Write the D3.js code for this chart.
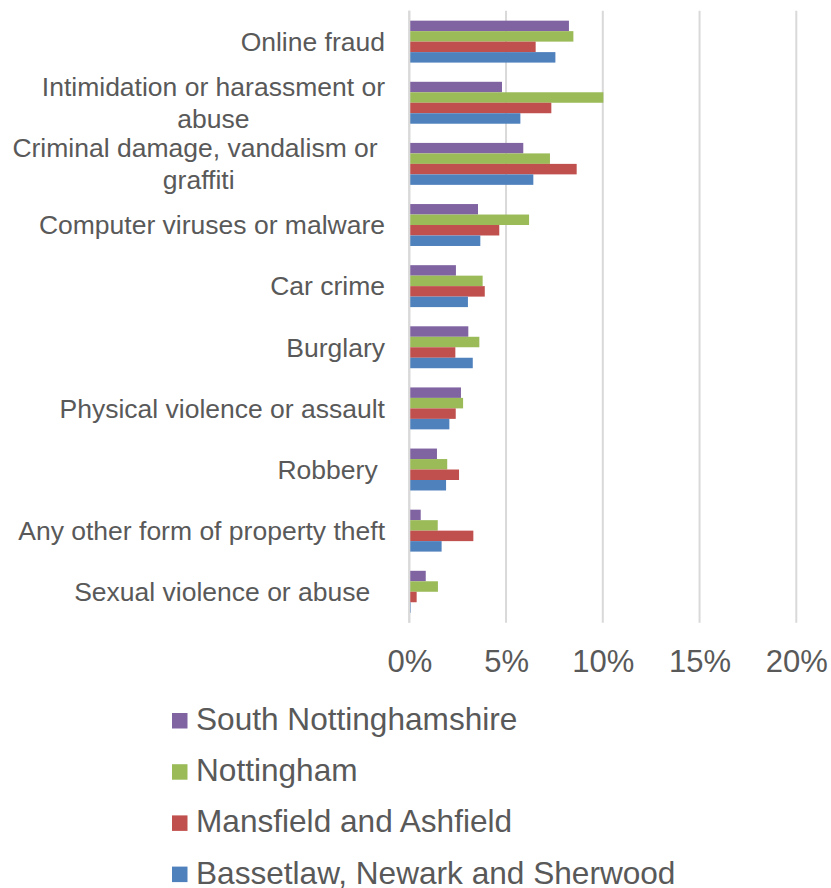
<!DOCTYPE html>
<html>
<head>
<meta charset="utf-8">
<script src="https://cdn.jsdelivr.net/npm/d3@7"></script>
<style>
  html, body { margin: 0; padding: 0; background: #ffffff; }
  svg { display: block; font-family: "Liberation Sans", Arial, sans-serif; }
</style>
</head>
<body>
<svg id="chart" width="831" height="888"></svg>
<script>
// Categories (top to bottom); "\n" marks a wrapped label line
const categories = [
  "Online fraud",
  "Intimidation or harassment or\nabuse",
  "Criminal damage, vandalism or \ngraffiti",
  "Computer viruses or malware",
  "Car crime",
  "Burglary",
  "Physical violence or assault",
  "Robbery ",
  "Any other form of property theft",
  "Sexual violence or abuse  "
];

const seriesNames = [
  "South Nottinghamshire",
  "Nottingham",
  "Mansfield and Ashfield",
  "Bassetlaw, Newark and Sherwood"
];

const seriesColors = ["#8064A2", "#9BBB59", "#C0504D", "#4F81BD"];

// Values in percent, same order as categories
const southNotts   = [8.25, 4.79, 5.89, 3.55, 2.41, 3.05, 2.67, 1.43, 0.59, 0.85];
const nottingham   = [8.48, 10.03, 7.27, 6.19, 3.79, 3.62, 2.78, 1.96, 1.47, 1.48];
const mansfield    = [6.53, 7.34, 8.65, 4.65, 3.90, 2.38, 2.40, 2.57, 3.31, 0.38];
const bassetlaw    = [7.55, 5.74, 6.41, 3.67, 3.03, 3.28, 2.07, 1.90, 1.67, 0.07];

const seriesValues = [southNotts, nottingham, mansfield, bassetlaw];

const xTicks = [0, 5, 10, 15, 20];

const svg = d3.select("#chart");
const textColor = "#595959";
const gridColor = "#d9d9d9";

const plot = { left: 409.3, right: 796.3, top: 10.7, bottom: 622.7 };

const x = d3.scaleLinear().domain([0, 20]).range([plot.left, plot.right]);
const y = d3.scaleBand().domain(d3.range(categories.length))
  .range([plot.top, plot.bottom]).paddingInner(0.314).paddingOuter(0.163);
const ySub = d3.scaleBand().domain(d3.range(seriesNames.length))
  .range([0, y.bandwidth()]);

// Gridlines
svg.append("g").selectAll("line")
  .data(xTicks)
  .join("line")
  .attr("x1", d => x(d)).attr("x2", d => x(d))
  .attr("y1", plot.top).attr("y2", plot.bottom)
  .attr("stroke", gridColor).attr("stroke-width", 2);

// Bars
const groups = svg.append("g").selectAll("g")
  .data(categories.map((c, i) => i))
  .join("g")
  .attr("transform", i => `translate(0,${y(i)})`);

groups.selectAll("rect")
  .data(i => seriesValues.map((vals, s) => ({ s, v: vals[i] })))
  .join("rect")
  .attr("x", x(0))
  .attr("y", d => ySub(d.s))
  .attr("width", d => x(d.v) - x(0))
  .attr("height", ySub.bandwidth())
  .attr("fill", d => seriesColors[d.s]);

// Axis line (left)
svg.append("line")
  .attr("x1", x(0)).attr("x2", x(0))
  .attr("y1", plot.top).attr("y2", plot.bottom)
  .attr("stroke", gridColor).attr("stroke-width", 2);

// X tick labels
const xAxis = d3.axisBottom(x).tickValues(xTicks).tickFormat(d => d + "%").tickSize(0).tickPadding(0);
const xg = svg.append("g").attr("transform", `translate(0,${plot.bottom})`).call(xAxis);
xg.select(".domain").remove();
xg.selectAll("text")
  .attr("dy", null)
  .attr("y", 49)
  .attr("fill", textColor)
  .style("font-size", "31px")
  .style("font-family", '"Liberation Sans", Arial, sans-serif');

// Category labels
const labelRight = 385;
const labelSize = 26.5;
const lineH = 31.5;
const lg = svg.append("g");
categories.forEach((cat, i) => {
  const lines = cat.split("\n");
  const cy = y(i) + y.bandwidth() / 2;
  const t = lg.append("text")
    .attr("xml:space", "preserve")
    .style("white-space", "pre")
    .attr("fill", textColor)
    .style("font-size", labelSize + "px")
    .attr("text-anchor", "middle");
  const spans = lines.map((ln, k) => t.append("tspan").text(ln));
  const widths = spans.map(sp => sp.node().getComputedTextLength());
  const bw = d3.max(widths);
  const cx = labelRight - bw / 2;
  const n = lines.length;
  spans.forEach((sp, k) => {
    sp.attr("x", cx)
      .attr("y", cy + (k - (n - 1) / 2) * lineH + labelSize * 0.35);
  });
});

// Legend
const legend = svg.append("g");
const legendTop = 713;
const legendStep = 51.2;
seriesNames.forEach((name, i) => {
  const gy = legendTop + i * legendStep;
  legend.append("rect")
    .attr("x", 172).attr("y", gy)
    .attr("width", 15.5).attr("height", 15.5)
    .attr("fill", seriesColors[i]);
  legend.append("text")
    .attr("x", 196).attr("y", gy + 17)
    .attr("fill", textColor)
    .style("font-size", "31.6px")
    .text(name);
});
</script>
</body>
</html>
